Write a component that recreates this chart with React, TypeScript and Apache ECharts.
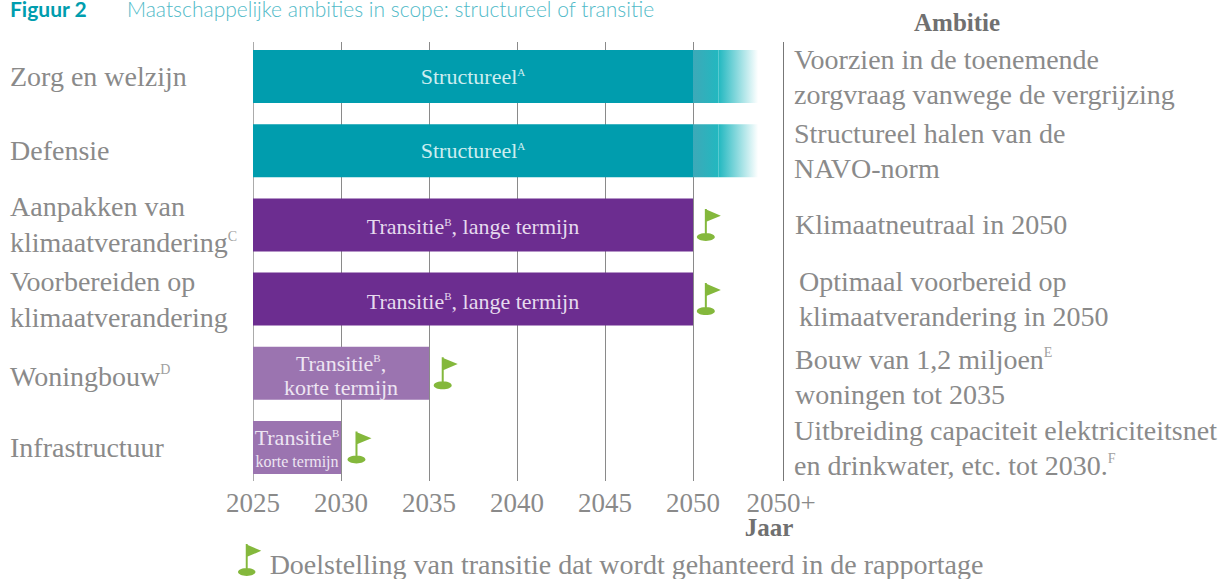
import React, { useEffect, useRef } from "react";
import * as echarts from "echarts";

const FONT = "'Liberation Serif'";
const GREY = "#8A8A8A";
const FLAG_ICON =
  "path://M8 0L10 0L10 1L24 7L10 13L10 25C15 25 18 27 18 29C18 31 14 33 9 33C4 33 0 31 0 29C0 27 3 25 8 25Z";

const figureLabel = "Figuur 2";
const figureTitle = "Maatschappelijke ambities in scope: structureel of transitie";
const goalLegend = "Doelstelling van transitie dat wordt gehanteerd in de rapportage";

const categories = [
  "Zorg en welzijn",
  "Defensie",
  "Aanpakken van\nklimaatverandering{s|C}",
  "Voorbereiden op\nklimaatverandering",
  "Woningbouw{s|D}",
  "Infrastructuur",
];
const categoryPadding = [[0, 0, 0, 0], [0, 0, 0, 0], [0, 0, 0, 0], [0, 0, 0, 0], [6, 0, 0, 0], [0, 0, 0, 0]];
const ambitions = [
  "Voorzien in de toenemende\nzorgvraag vanwege de vergrijzing",
  "Structureel halen van de\nNAVO-norm",
  "Klimaatneutraal in 2050",
  "Optimaal voorbereid op\nklimaatverandering in 2050",
  "Bouw van 1,2 miljoen{s|E}\nwoningen tot 2035",
  "Uitbreiding capaciteit elektriciteitsnet\nen drinkwater, etc. tot 2030.{s|F}",
];
const ambitionPadding = [[0, 0, 0, 0], [0, 0, 0, 0], [0, 0, 0, 1], [0, 0, 0, 5], [7, 0, 0, 1], [0, 0, 0, 0]];
const barLabels = [
  "Structureel{s|A}",
  "Structureel{s|A}",
  "Transitie{s|B}, lange termijn",
  "Transitie{s|B}, lange termijn",
  "Transitie{s|B},\nkorte termijn",
  "Transitie{s|B}\n{n|korte termijn}",
];
const tickLabels = ["2025", "2030", "2035", "2040", "2045", "2050", "2050+"];
const tickPositions = [0, 5, 10, 15, 20, 25, 30];
const durations = [25, 25, 25, 25, 10, 5];
const fadeNear = [1.45, 1.45, 0, 0, 0, 0];
const fadeFar = [2.25, 2.25, 0, 0, 0, 0];
const barColors = ["#009DAE", "#009DAE", "#6C2D90", "#6C2D90", "#9B74B0", "#9B74B0"];
const labelColors = ["#CDEDF0", "#CDEDF0", "#E6DAEE", "#E6DAEE", "#EDE5F2", "#EDE5F2"];
const goalPositions = [null, null, 25.9, 25.9, 10.95, 6.05];

const superscript = { fontSize: 14, fontFamily: FONT, padding: [0, 0, 13, 0], color: "#A0A0A0" };

export default function App() {
  const ref = useRef<HTMLDivElement>(null);
  useEffect(() => {
    const chart = echarts.init(ref.current!, undefined, { renderer: "svg" });
    chart.setOption({
      animation: false,
      backgroundColor: "#fff",
      textStyle: { fontFamily: FONT },
      title: [
        {
          text: figureLabel,
          left: 5,
          top: -5,
          textStyle: { fontFamily: "Lato", fontSize: 21, lineHeight: 17, fontWeight: "bold", color: "#009DAE" },
        },
        {
          text: figureTitle,
          left: 122,
          top: -5,
          textStyle: { fontFamily: "Lato", fontSize: 21, lineHeight: 17, fontWeight: 300, color: "#4FBAC8" },
        },
      ],
      legend: {
        data: [{ name: goalLegend, icon: FLAG_ICON }],
        left: 238,
        top: 544,
        padding: 0,
        itemWidth: 24,
        itemHeight: 32,
        itemGap: 0,
        selectedMode: false,
        formatter: (name: string) => `{t|${name}}`,
        textStyle: {
          rich: {
            t: { fontSize: 28, fontFamily: FONT, color: GREY, padding: [8, 0, 0, 3] },
          },
        },
      },
      grid: { left: 253, right: 438, top: 39.4, bottom: 94.4, outerBoundsMode: "none" },
      xAxis: {
        type: "value",
        min: 0,
        max: 30,
        interval: 5,
        name: "Jaar",
        nameLocation: "end",
        nameGap: -12,
        nameMoveOverlap: false,
        nameTextStyle: {
          fontSize: 25,
          lineHeight: 20,
          fontWeight: "bold",
          color: "#707070",
          align: "center",
          verticalAlign: "top",
          padding: [33, 0, 0, 0],
        },
        axisLine: { show: false },
        axisTick: { show: false },
        splitLine: { show: false },
        axisLabel: {
          color: GREY,
          fontSize: 27,
          lineHeight: 22,
          margin: 7,
          formatter: (v: number) => tickLabels[tickPositions.indexOf(v)],
        },
      },
      yAxis: [
        {
          type: "category",
          inverse: true,
          data: categories.map((value, i) => ({
            value,
            textStyle: { padding: categoryPadding[i], align: "left" },
          })),
          axisLine: { show: false },
          axisTick: { show: false },
          axisLabel: {
            align: "left",
            margin: 243,
            color: GREY,
            fontSize: 28,
            lineHeight: 36,
            rich: { s: superscript },
          },
        },
        {
          type: "category",
          inverse: true,
          position: "right",
          data: ambitions.map((value, i) => ({
            value,
            textStyle: { padding: ambitionPadding[i], align: "left" },
          })),
          name: "Ambitie",
          nameLocation: "start",
          nameGap: 4,
          nameTextStyle: {
            fontSize: 25,
            fontWeight: "bold",
            color: "#707070",
            align: "left",
            padding: [0, 0, 0, 133],
          },
          axisLine: { show: false },
          axisTick: { show: false },
          axisLabel: {
            align: "left",
            margin: 13,
            color: GREY,
            fontSize: 28,
            lineHeight: 35,
            rich: { s: superscript },
          },
        },
      ],
      series: [
        {
          type: "custom",
          name: "gridlines",
          silent: true,
          z: 1,
          data: tickPositions,
          encode: { x: 0 },
          renderItem: (params: any, api: any) => {
            const pos = api.value(0);
            const last = pos === 30;
            const x = Math.round(api.coord([pos, 0])[0]) + (last ? 2.5 : 0.5);
            const sys = params.coordSys;
            return {
              type: "line",
              shape: { x1: x, y1: sys.y + 2.6, x2: x, y2: sys.y + sys.height - 3.6 },
              style: { stroke: pos === 0 ? "#ABABAB" : last ? "#777" : "#8A8A8A", lineWidth: 1 },
            };
          },
        },
        {
          type: "bar",
          name: "Duur",
          stack: "ambitie",
          barWidth: 53,
          z: 2,
          data: durations.map((value, i) => ({
            value,
            itemStyle: { color: barColors[i] },
            label: { color: labelColors[i], offset: [0, i < 2 ? 0 : 2] },
          })),
          label: {
            show: true,
            position: "inside",
            fontSize: 22,
            lineHeight: 24,
            formatter: (p: any) => barLabels[p.dataIndex],
            rich: {
              s: { fontSize: 11, fontFamily: FONT, padding: [0, 0, 10, 0] },
              n: { fontSize: 16, fontFamily: "'Liberation Sans Narrow'", lineHeight: 24 },
            },
          },
        },
        {
          type: "bar",
          name: "Structureel vervolg",
          stack: "ambitie",
          z: 2,
          itemStyle: {
            color: new echarts.graphic.LinearGradient(0, 0, 1, 0, [
              { offset: 0, color: "#3DA9B8" },
              { offset: 1, color: "#22B8C0" },
            ]),
          },
          data: fadeNear,
        },
        {
          type: "bar",
          name: "Structureel uitloop",
          stack: "ambitie",
          z: 2,
          itemStyle: {
            color: new echarts.graphic.LinearGradient(0, 0, 1, 0, [
              { offset: 0, color: "#22B8C0" },
              { offset: 1, color: "#FFFFFF" },
            ]),
          },
          data: fadeFar,
        },
        {
          type: "scatter",
          name: goalLegend,
          symbol: FLAG_ICON,
          symbolSize: [24, 32],
          symbolKeepAspect: false,
          z: 3,
          itemStyle: { color: "#84B83C", opacity: 1 },
          data: goalPositions.map((x, i) => (x === null ? [null, i] : [x, i])),
        },
      ],
    });
    return () => chart.dispose();
  }, []);
  return <div ref={ref} style={{ position: "fixed", left: 0, top: 0, width: 1219, height: 579 }} />;
}
